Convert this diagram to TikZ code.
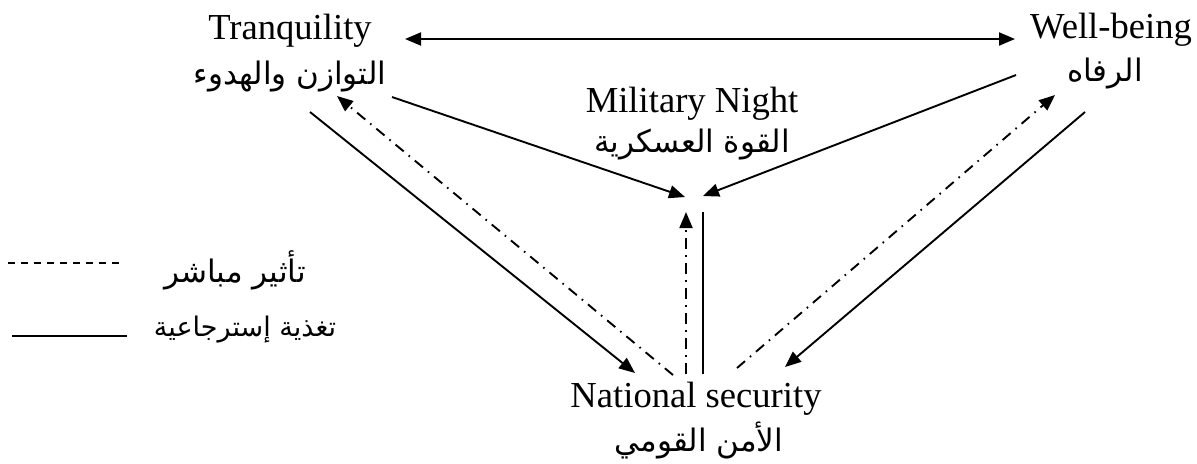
\documentclass[tikz,border=0pt]{standalone}
\usepackage{fontspec}
\setmainfont{Liberation Serif}
\newfontfamily\arabicfont[Script=Arabic]{DejaVu Sans}
\TeXXeTstate=1
\usetikzlibrary{arrows.meta}

\tikzset{
  en/.style={font=\fontsize{18.3}{22}\selectfont, anchor=base, inner sep=0pt},
  ar/.style={font=\arabicfont\fontsize{15.5}{18}\selectfont, inner sep=0pt},
  tip/.style={-{Triangle[length=8pt,width=6.5pt]}},
  feed/.style={line width=0.95pt},
  direct/.style={line width=0.95pt, dash pattern=on 5.3pt off 3.2pt on 0.8pt off 3.2pt},
}

\begin{document}
\begin{tikzpicture}[x=0.5pt,y=-0.5pt]
  \useasboundingbox (0,0) rectangle (1197,463);

  % labels of the four poles
  \node[en] (tq-en) at (290,39)  {Tranquility};
  \node[ar] (tq-ar) at (290,76)  {\beginR التوازن والهدوء\endR};
  \node[en] (wb-en) at (1111,38) {Well-being};
  \node[ar] (wb-ar) at (1105,73) {\beginR الرفاه\endR};
  \node[en] (mn-en) at (692,112) {Military Night};
  \node[ar] (mn-ar) at (692,144) {\beginR القوة العسكرية\endR};
  \node[en] (ns-en) at (696,407) {National security};
  \node[ar] (ns-ar) at (699,440) {\beginR الأمن القومي\endR};

  % end points of the connectors
  \coordinate (tq-top) at (405,39);
  \coordinate (wb-top) at (1015,39);
  \coordinate (tq-mn)  at (392,97);
  \coordinate (wb-mn)  at (1016,75);
  \coordinate (mn-l)   at (685,197);
  \coordinate (mn-r)   at (703,196);
  \coordinate (mn-dl)  at (686,212);
  \coordinate (mn-dr)  at (703,212);
  \coordinate (ns-dl)  at (686,374);
  \coordinate (ns-dr)  at (703,374);
  \coordinate (tq-ns)  at (310,112);
  \coordinate (ns-tq)  at (635,373);
  \coordinate (ns-tqd) at (673,375);
  \coordinate (tq-d)   at (337,96);
  \coordinate (ns-wbd) at (737,368);
  \coordinate (wb-d)   at (1055,95);
  \coordinate (wb-ns)  at (1085,112);
  \coordinate (ns-wb)  at (785,367);

  % connectors
  \draw[feed,{Triangle[length=8pt,width=6.5pt]}-{Triangle[length=8pt,width=6.5pt]}] (tq-top) -- (wb-top);
  \draw[feed,tip] (tq-mn) -- (mn-l);
  \draw[feed,tip] (wb-mn) -- (mn-r);
  \draw[direct,tip] (ns-dl) -- (mn-dl);
  \draw[feed] (mn-dr) -- (ns-dr);
  \draw[feed,tip] (tq-ns) -- (ns-tq);
  \draw[direct,tip] (ns-tqd) -- (tq-d);
  \draw[direct,tip] (ns-wbd) -- (wb-d);
  \draw[feed,tip] (wb-ns) -- (ns-wb);

  % legend
  \coordinate (lg-a1) at (8,263);
  \coordinate (lg-a2) at (123,263);
  \coordinate (lg-b1) at (12,336);
  \coordinate (lg-b2) at (127,336);
  \draw[line width=0.6pt, dash pattern=on 3.5pt off 3pt] (lg-a1) -- (lg-a2);
  \draw[line width=0.7pt] (lg-b1) -- (lg-b2);
  \node[ar] (lg-a) at (235,270) {\beginR تأثير مباشر\endR};
  \node[ar,font=\arabicfont\fontsize{13.5}{16}\selectfont] (lg-b) at (245,330) {\beginR تغذية إسترجاعية\endR};
\end{tikzpicture}
\end{document}
